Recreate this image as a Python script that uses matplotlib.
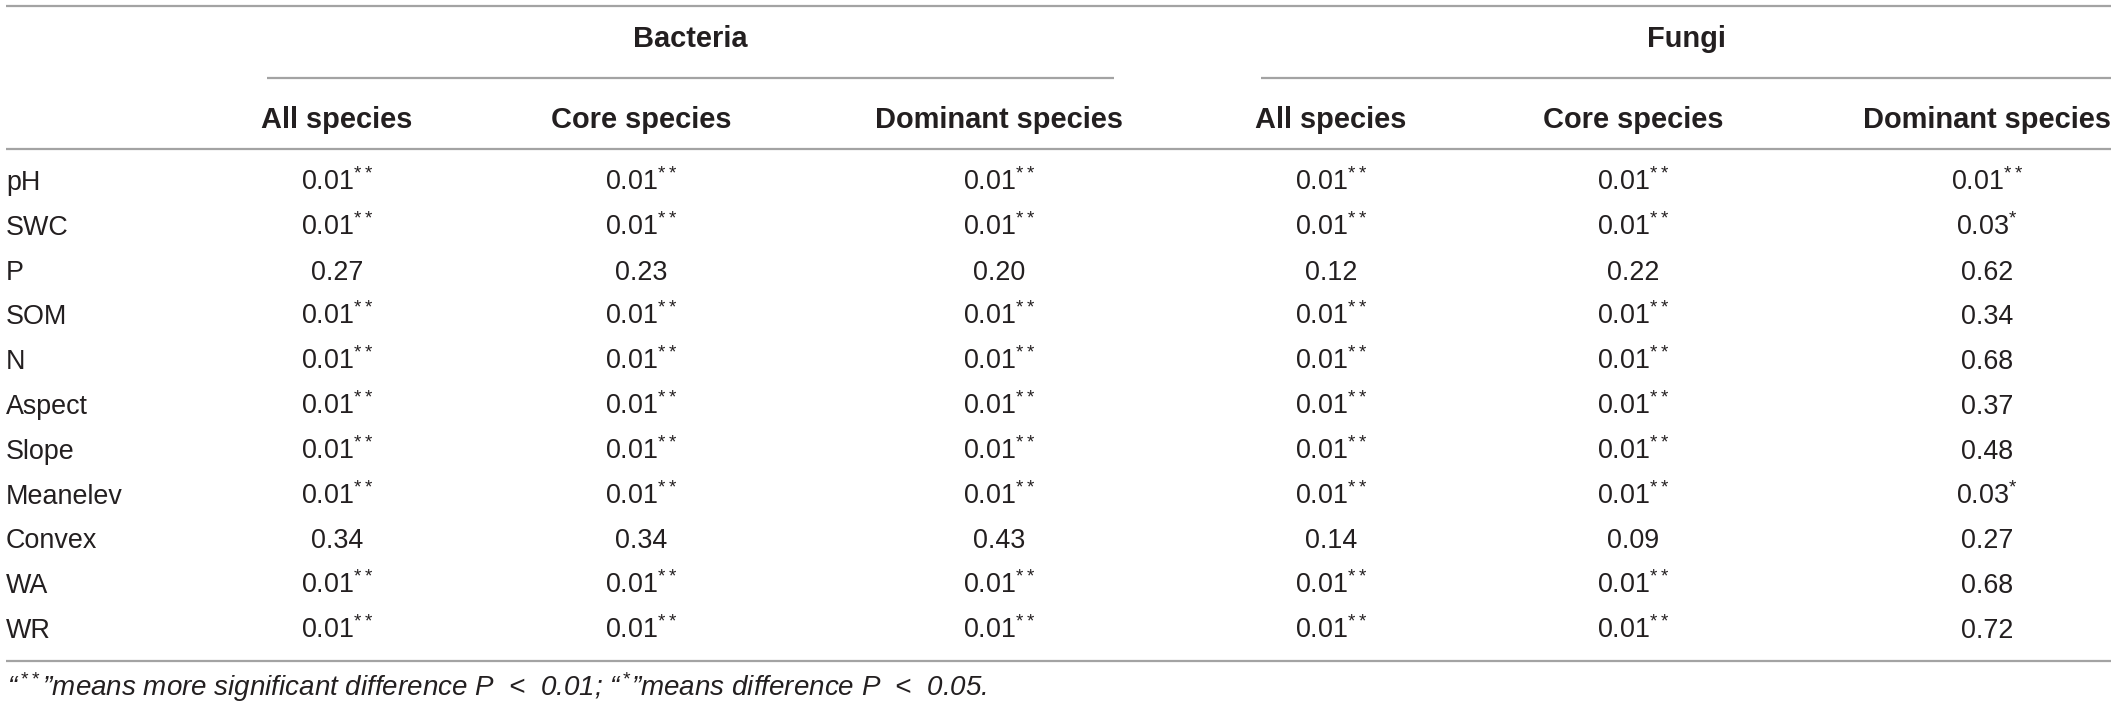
import matplotlib
matplotlib.use('Agg')
import matplotlib.pyplot as plt

plt.rcParams['font.family'] = ['Liberation Sans', 'DejaVu Sans']
plt.rcParams['mathtext.fontset'] = 'custom'
plt.rcParams['mathtext.rm'] = 'Liberation Sans'
plt.rcParams['mathtext.it'] = 'Liberation Sans:italic'
plt.rcParams['mathtext.bf'] = 'Liberation Sans:bold'

# table content
groups = ['Bacteria', 'Fungi']
subheads = ['All species', 'Core species', 'Dominant species']
factors = ['pH', 'SWC', 'P', 'SOM', 'N', 'Aspect', 'Slope', 'Meanelev', 'Convex', 'WA', 'WR']

bac_all = ['0.01**', '0.01**', '0.27', '0.01**', '0.01**', '0.01**', '0.01**', '0.01**', '0.34', '0.01**', '0.01**']
bac_core = ['0.01**', '0.01**', '0.23', '0.01**', '0.01**', '0.01**', '0.01**', '0.01**', '0.34', '0.01**', '0.01**']
bac_dom = ['0.01**', '0.01**', '0.20', '0.01**', '0.01**', '0.01**', '0.01**', '0.01**', '0.43', '0.01**', '0.01**']
fun_all = ['0.01**', '0.01**', '0.12', '0.01**', '0.01**', '0.01**', '0.01**', '0.01**', '0.14', '0.01**', '0.01**']
fun_core = ['0.01**', '0.01**', '0.22', '0.01**', '0.01**', '0.01**', '0.01**', '0.01**', '0.09', '0.01**', '0.01**']
fun_dom = ['0.01**', '0.03*', '0.62', '0.34', '0.68', '0.37', '0.48', '0.03*', '0.27', '0.68', '0.72']

footnote = ('\u201c$\\,^{**}$\u201dmeans more significant difference P  <  0.01; '
            '\u201c$\\,^{*}$\u201dmeans difference P  <  0.05.')

# layout (pixel space)
W, H = 2118, 707
col_x = [337, 641, 999, 1331, 1633, 1987]
group_span = [(267, 1114), (1261, 2111)]
row0, row_step = 190, 44.8
txt_col = '#231f20'
rule_col = '#a3a3a3'


def with_stars(s):
    num = s.rstrip('*')
    stars = s[len(num):]
    return num + (r'$^{' + stars + '}$' if stars else '')


fig = plt.figure(figsize=(W / 100, H / 100), dpi=100)
ax = fig.add_axes([0, 0, 1, 1])
ax.set_xlim(0, W)
ax.set_ylim(H, 0)
ax.axis('off')

# rules
for y in (6, 149, 661):
    ax.plot([6, 2111], [y, y], color=rule_col, lw=1.6, solid_capstyle='butt')
for x0, x1 in group_span:
    ax.plot([x0, x1], [78, 78], color=rule_col, lw=1.6, solid_capstyle='butt')

# headers
for g, (x0, x1) in zip(groups, group_span):
    ax.text((x0 + x1) / 2, 47, g, ha='center', va='baseline', fontsize=20.9,
            fontweight='bold', color=txt_col)
for i, x in enumerate(col_x):
    ax.text(x, 128, subheads[i % 3], ha='center', va='baseline', fontsize=20.9,
            fontweight='bold', color=txt_col)

# body
columns = [bac_all, bac_core, bac_dom, fun_all, fun_core, fun_dom]
for r, name in enumerate(factors):
    y = row0 + r * row_step
    ax.text(6, y, name, ha='left', va='baseline', fontsize=19.4, color=txt_col)
    for x, col in zip(col_x, columns):
        ax.text(x, y, with_stars(col[r]), ha='center', va='baseline',
                fontsize=19.4, color=txt_col)

ax.text(7, 696, footnote, ha='left', va='baseline', fontsize=20,
        fontstyle='italic', color=txt_col)

fig.savefig('out.png', dpi=100)
